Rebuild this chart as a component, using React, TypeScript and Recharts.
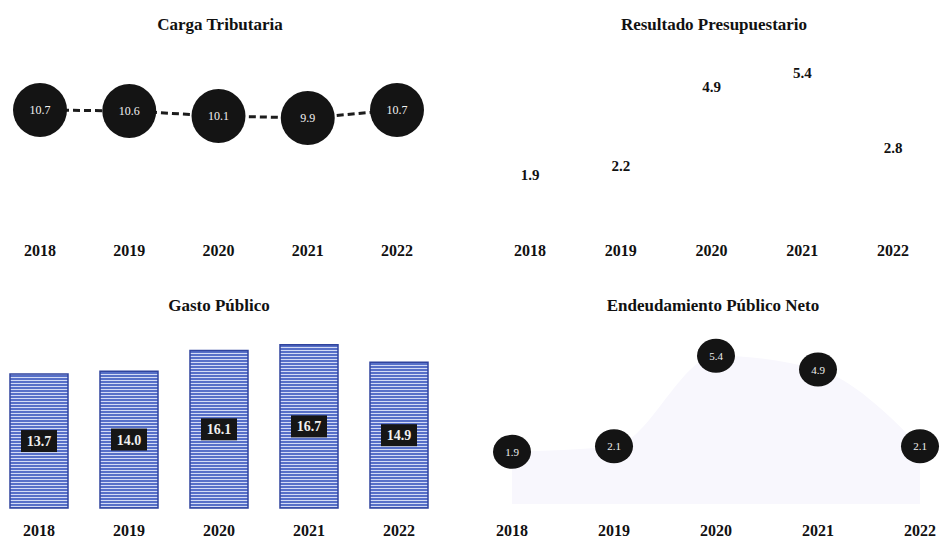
import React from "react";
import {
  LineChart,
  Line,
  BarChart,
  Bar,
  ComposedChart,
  Area,
  XAxis,
  YAxis,
  LabelList,
} from "recharts";

// ─── Data ─────────────────────────────────────────────────────────────────────

const YEARS = ["2018", "2019", "2020", "2021", "2022"];
const CARGA_TRIBUTARIA = [10.7, 10.6, 10.1, 9.9, 10.7];
const RESULTADO_PRESUPUESTARIO = [1.9, 2.2, 4.9, 5.4, 2.8];
const GASTO_PUBLICO = [13.7, 14.0, 16.1, 16.7, 14.9];
const ENDEUDAMIENTO_NETO = [1.9, 2.1, 5.4, 4.9, 2.1];

const toRows = (values: number[]) => YEARS.map((year, i) => ({ year, v: values[i] }));

const cargaData = toRows(CARGA_TRIBUTARIA);
const resultadoData = toRows(RESULTADO_PRESUPUESTARIO);
const gastoData = toRows(GASTO_PUBLICO);
const endeudamientoData = toRows(ENDEUDAMIENTO_NETO);

// ─── Shared bits ──────────────────────────────────────────────────────────────

const SERIF = '"Liberation Serif", "DejaVu Serif", serif';
const fmt = (v: number) => v.toFixed(1);

const yearTick = { fill: "#111", fontSize: 16, fontWeight: 700, fontFamily: SERIF };

const Title = ({ text, cx, cy }: { text: string; cx: number; cy: number }) => (
  <div
    style={{
      position: "absolute",
      left: cx - 200,
      top: cy - 11,
      width: 400,
      textAlign: "center",
      fontFamily: SERIF,
      fontWeight: 700,
      fontSize: 17,
      lineHeight: "22px",
      color: "#111",
    }}
  >
    {text}
  </div>
);

// big black bubble with white value (Carga Tributaria)
const BigBubble = (props: any) => {
  const { cx, cy, value, index } = props;
  return (
    <g key={`big-${index}`}>
      <circle cx={cx} cy={cy} r={27} fill="#141414" />
      <text x={cx} y={cy} dy={4} textAnchor="middle" fill="#f2f2f2" fontSize={12} fontFamily={SERIF}>
        {fmt(value)}
      </text>
    </g>
  );
};

// plain bold number (Resultado Presupuestario)
const PlainValue = (props: any) => {
  const { cx, cy, value, index } = props;
  return (
    <text key={`plain-${index}`} x={cx} y={cy} dy={5} textAnchor="middle" fill="#111" fontSize={15} fontWeight={700} fontFamily={SERIF}>
      {fmt(value)}
    </text>
  );
};

// small black oval (Endeudamiento)
const SmallBubble = (props: any) => {
  const { cx, cy, value, index } = props;
  return (
    <g key={`small-${index}`}>
      <ellipse cx={cx} cy={cy} rx={19} ry={17} fill="#141414" />
      <text x={cx} y={cy} dy={4} textAnchor="middle" fill="#eeeeee" fontSize={11} fontFamily={SERIF}>
        {fmt(value)}
      </text>
    </g>
  );
};

// dark value box inside each bar (Gasto Público)
const BarBox = (props: any) => {
  const { x, y, width, height, value } = props;
  const cx = x + width / 2;
  const cy = y + height / 2;
  return (
    <g>
      <rect x={cx - 18} y={cy - 11} width={36} height={22} fill="#161616" />
      <text x={cx} y={cy} dy={5} textAnchor="middle" fill="#f0f0f0" fontSize={14} fontWeight={700} fontFamily={SERIF}>
        {fmt(value)}
      </text>
    </g>
  );
};

// ─── App ──────────────────────────────────────────────────────────────────────

export default function App() {
  return (
    <div style={{ position: "absolute", left: 0, top: 0, width: 940, height: 538, background: "#fff", overflow: "hidden" }}>
      <Title text="Carga Tributaria" cx={220} cy={25} />
      <Title text="Resultado Presupuestario" cx={714} cy={25} />
      <Title text="Gasto Público" cx={219} cy={306} />
      <Title text="Endeudamiento Público Neto" cx={713} cy={306} />

      {/* Carga Tributaria */}
      <div style={{ position: "absolute", left: 0, top: 0 }}>
        <LineChart width={470} height={270} data={cargaData} margin={{ top: 20, right: 73, bottom: 10, left: 40 }}>
          <XAxis dataKey="year" axisLine={false} tickLine={false} height={30} tickMargin={9} tick={yearTick} interval={0} />
          <YAxis hide domain={[-1.3, 19.7]} />
          <Line
            dataKey="v"
            stroke="#1c1c1c"
            strokeWidth={3}
            strokeDasharray="7 4"
            dot={BigBubble}
            activeDot={false}
            isAnimationActive={false}
          />
        </LineChart>
      </div>

      {/* Resultado Presupuestario */}
      <div style={{ position: "absolute", left: 470, top: 0 }}>
        <LineChart width={470} height={270} data={resultadoData} margin={{ top: 20, right: 47, bottom: 10, left: 60 }}>
          <XAxis dataKey="year" axisLine={false} tickLine={false} height={30} tickMargin={9} tick={yearTick} interval={0} />
          <YAxis hide domain={[0, 7.2]} />
          <Line dataKey="v" stroke="none" dot={PlainValue} activeDot={false} isAnimationActive={false} />
        </LineChart>
      </div>

      {/* Gasto Público */}
      <div style={{ position: "absolute", left: -6, top: 270 }}>
        <BarChart width={450} height={268} data={gastoData} margin={{ top: 20, right: 0, bottom: 0, left: 0 }}>
          <defs>
            <pattern id="stripes" width="6" height="3" patternUnits="userSpaceOnUse">
              <rect width="6" height="3" fill="#5770c8" />
              <rect y="2" width="6" height="1" fill="#d3dbf5" />
            </pattern>
          </defs>
          <XAxis dataKey="year" axisLine={false} tickLine={false} height={30} tickMargin={11} tick={yearTick} interval={0} />
          <YAxis hide domain={[0, 22.3]} />
          <Bar dataKey="v" barSize={58} fill="url(#stripes)" stroke="#30449e" strokeWidth={1.5} isAnimationActive={false}>
            <LabelList dataKey="v" content={BarBox} />
          </Bar>
        </BarChart>
      </div>

      {/* Endeudamiento Público Neto */}
      <div style={{ position: "absolute", left: 470, top: 270 }}>
        <ComposedChart width={470} height={268} data={endeudamientoData} margin={{ top: 20, right: 20, bottom: 0, left: 42 }}>
          <XAxis dataKey="year" axisLine={false} tickLine={false} height={30} tickMargin={11} tick={yearTick} interval={0} />
          <YAxis hide domain={[-0.15, 7.8]} />
          <Area dataKey="v" type="monotone" stroke="none" fill="#f8f7fd" fillOpacity={1} isAnimationActive={false} />
          <Line dataKey="v" stroke="none" dot={SmallBubble} activeDot={false} isAnimationActive={false} />
        </ComposedChart>
      </div>
    </div>
  );
}
